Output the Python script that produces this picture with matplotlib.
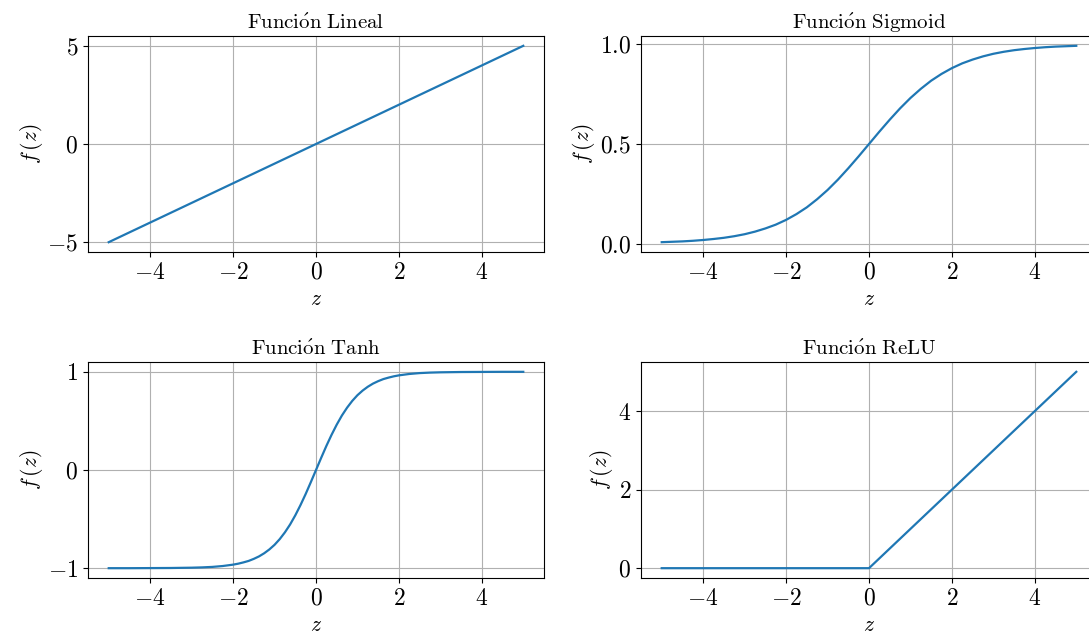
import matplotlib
matplotlib.use("Agg")
import matplotlib.pyplot as plt

plt.rcParams.update({
    "font.family": "serif",
    "font.serif": ["cmr10", "DejaVu Serif"],
    "mathtext.fontset": "cm",
    "axes.formatter.use_mathtext": True,
    "axes.unicode_minus": True,
})

# values
z_lin = [-5, 5]
f_lin = [-5, 5]

z_s = [-5, -4.75, -4.5, -4.25, -4, -3.75, -3.5, -3.25, -3, -2.75, -2.5, -2.25, -2,
       -1.75, -1.5, -1.25, -1, -0.75, -0.5, -0.25, 0, 0.25, 0.5, 0.75, 1, 1.25, 1.5,
       1.75, 2, 2.25, 2.5, 2.75, 3, 3.25, 3.5, 3.75, 4, 4.25, 4.5, 4.75, 5]
f_sig = [0.007, 0.009, 0.011, 0.014, 0.018, 0.023, 0.029, 0.037, 0.047, 0.060, 0.076,
         0.095, 0.119, 0.148, 0.182, 0.223, 0.269, 0.321, 0.378, 0.438, 0.500, 0.562,
         0.622, 0.679, 0.731, 0.777, 0.818, 0.852, 0.881, 0.905, 0.924, 0.940, 0.953,
         0.963, 0.971, 0.977, 0.982, 0.986, 0.989, 0.991, 0.993]

z_t = [-5, -4.5, -4, -3.5, -3, -2.75, -2.5, -2.25, -2, -1.875, -1.75, -1.625, -1.5,
       -1.375, -1.25, -1.125, -1, -0.875, -0.75, -0.625, -0.5, -0.375, -0.25, -0.125,
       0, 0.125, 0.25, 0.375, 0.5, 0.625, 0.75, 0.875, 1, 1.125, 1.25, 1.375, 1.5,
       1.625, 1.75, 1.875, 2, 2.25, 2.5, 2.75, 3, 3.5, 4, 4.5, 5]
f_tanh = [-1.0, -1.0, -0.999, -0.998, -0.995, -0.992, -0.987, -0.978, -0.964, -0.954,
          -0.941, -0.926, -0.905, -0.880, -0.848, -0.809, -0.762, -0.704, -0.635, -0.555,
          -0.462, -0.358, -0.245, -0.124, 0.0, 0.124, 0.245, 0.358, 0.462, 0.555, 0.635,
          0.704, 0.762, 0.809, 0.848, 0.880, 0.905, 0.926, 0.941, 0.954, 0.964, 0.978,
          0.987, 0.992, 0.995, 0.998, 0.999, 1.0, 1.0]
z_relu = [-5, 0, 5]
f_relu = [0, 0, 5]

titles = [r"$\mathrm{Funci\acute{o}n\ Lineal}$", r"$\mathrm{Funci\acute{o}n\ Sigmoid}$",
          r"$\mathrm{Funci\acute{o}n\ Tanh}$", r"$\mathrm{Funci\acute{o}n\ ReLU}$"]
series = [(z_lin, f_lin), (z_s, f_sig), (z_t, f_tanh), (z_relu, f_relu)]
yticks = [[-5, 0, 5], [0.0, 0.5, 1.0], [-1, 0, 1], [0, 2, 4]]

W, H = 1089, 634
fig = plt.figure(figsize=(W / 100, H / 100), dpi=100)
pos = [(88, 36), (641, 36), (88, 362), (641, 362)]
aw, ah = 456, 216

for i in range(4):
    x0, y0 = pos[i]
    ax = fig.add_axes([x0 / W, 1 - (y0 + ah) / H, aw / W, ah / H])
    z, f = series[i]
    ax.plot(z, f, color="#1f77b4", lw=1.6)
    ax.grid(True)
    ax.set_xlim(-5.5, 5.5)
    ax.set_xticks([-4, -2, 0, 2, 4])
    ax.set_yticks(yticks[i])
    if i == 1:
        ax.set_yticklabels(["$0.0$", "$0.5$", "$1.0$"])
    ax.tick_params(labelsize=17)
    ax.set_title(titles[i], fontsize=15, pad=5)
    ax.set_xlabel("$z$", fontsize=15.5, labelpad=4)
    ax.set_ylabel(r"$f\,(z)$", fontsize=15.5, labelpad=2)

fig.savefig("out.png", dpi=100)
